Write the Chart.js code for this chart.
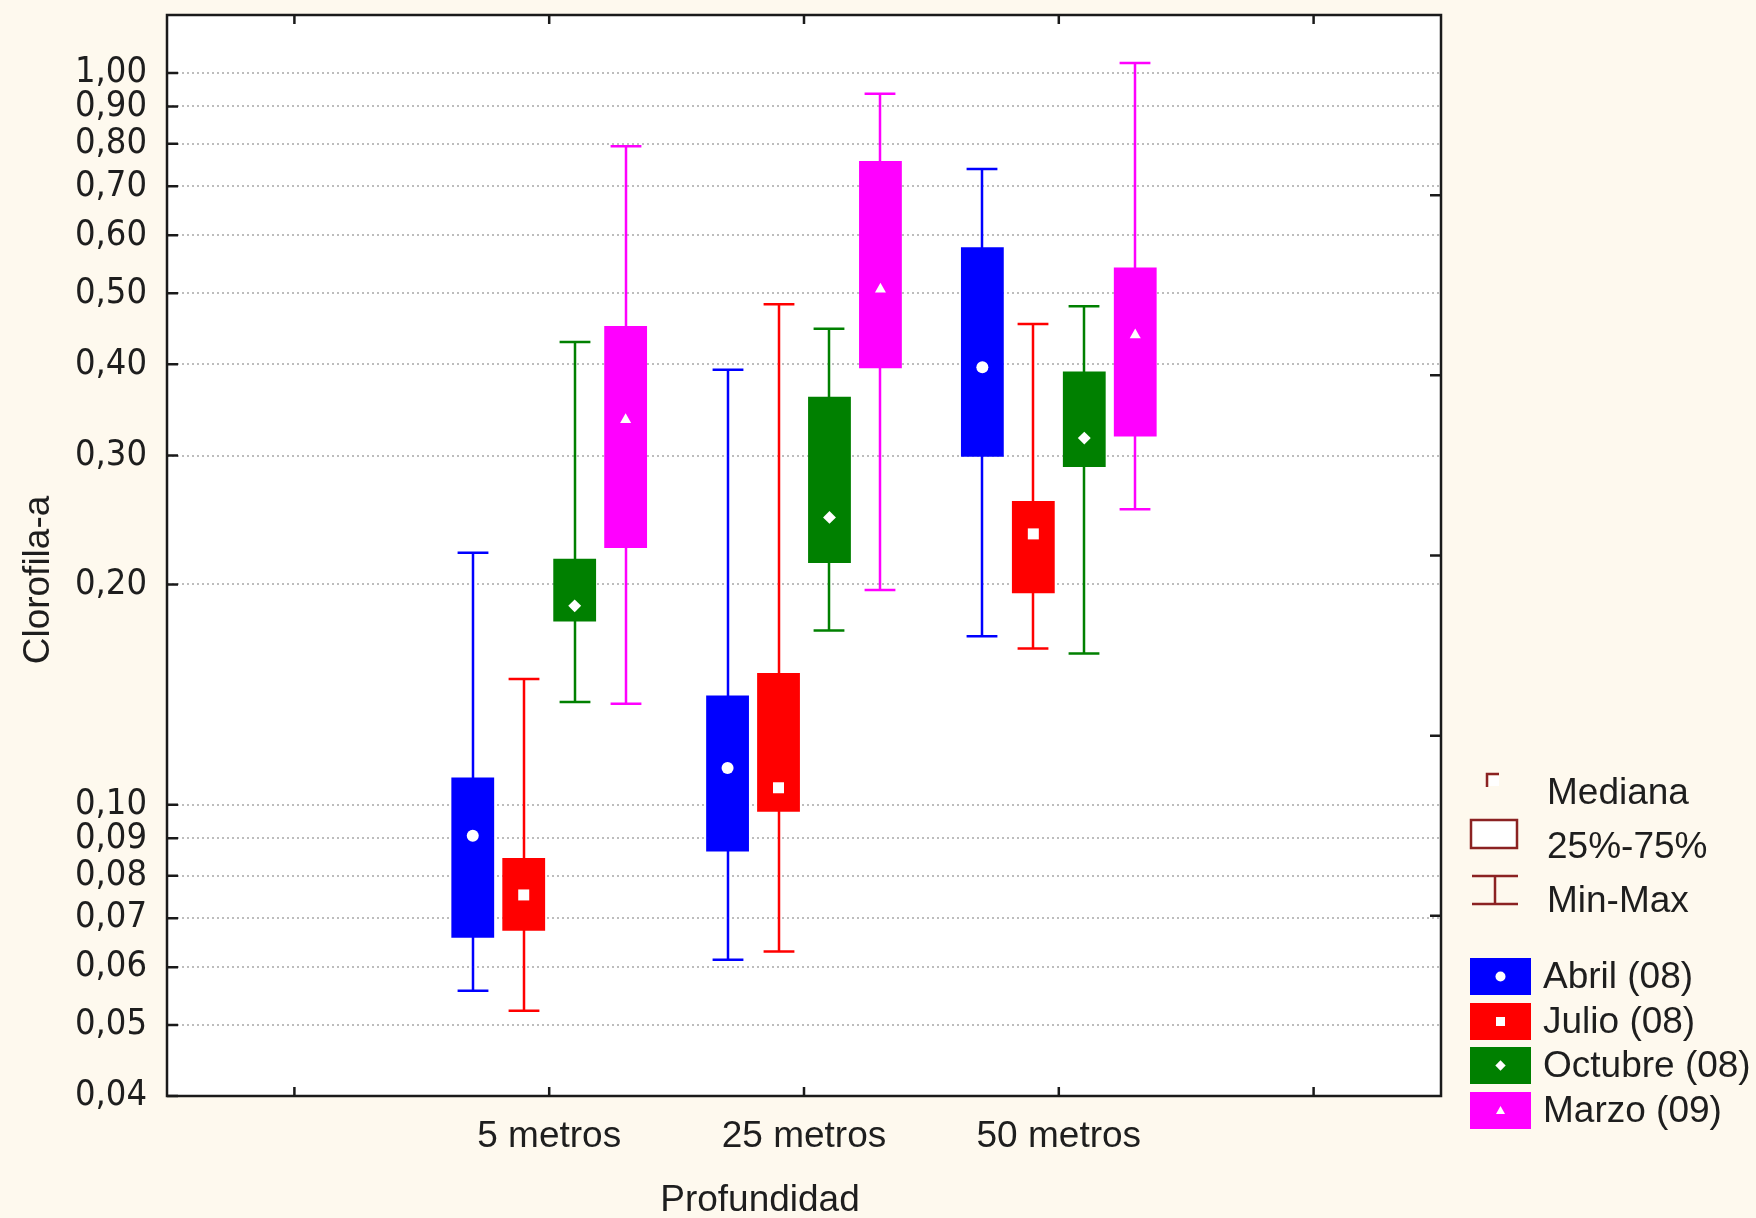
<!DOCTYPE html>
<html><head><meta charset="utf-8">
<script src="https://cdn.jsdelivr.net/npm/chart.js@4.4.1/dist/chart.umd.min.js"></script>
<style>html,body{margin:0;padding:0;background:#FEF9EE;}canvas{display:block}</style>
</head><body>
<canvas id="c" width="1756" height="1218"></canvas>
<script>
// ---------- data ----------
const categories = ['', '5 metros', '25 metros', '50 metros', ''];
const seriesNames = ['Abril (08)', 'Julio (08)', 'Octubre (08)', 'Marzo (09)'];
const seriesColors = ['#0000FF', '#FF0000', '#008000', '#FF00FF'];
const medianMarkers = ['circle', 'square', 'diamond', 'triangle'];

const abrilMin    = [null, 0.0557, 0.0614, 0.170, null];
const abrilQ1     = [null, 0.0658, 0.0863, 0.299, null];
const abrilMedian = [null, 0.0907, 0.1123, 0.396, null];
const abrilQ3     = [null, 0.109, 0.141, 0.578, null];
const abrilMax    = [null, 0.221, 0.393, 0.739, null];

const julioMin    = [null, 0.0523, 0.0630, 0.1635, null];
const julioQ1     = [null, 0.0673, 0.0978, 0.1945, null];
const julioMedian = [null, 0.0753, 0.1055, 0.2345, null];
const julioQ3     = [null, 0.0846, 0.1514, 0.260, null];
const julioMax    = [null, 0.1486, 0.483, 0.454, null];

const octubreMin    = [null, 0.1382, 0.173, 0.161, null];
const octubreQ1     = [null, 0.178, 0.214, 0.2895, null];
const octubreMedian = [null, 0.187, 0.247, 0.317, null];
const octubreQ3     = [null, 0.2168, 0.361, 0.391, null];
const octubreMax    = [null, 0.429, 0.447, 0.480, null];

const marzoMin    = [null, 0.1374, 0.1966, 0.2534, null];
const marzoQ1     = [null, 0.2244, 0.395, 0.3187, null];
const marzoMedian = [null, 0.337, 0.508, 0.440, null];
const marzoQ3     = [null, 0.451, 0.758, 0.542, null];
const marzoMax    = [null, 0.794, 0.937, 1.032, null];

const yTickValues = [0.04, 0.05, 0.06, 0.07, 0.08, 0.09, 0.10, 0.20, 0.30, 0.40, 0.50, 0.60, 0.70, 0.80, 0.90, 1.00];
const yMin = 0.04, yMax = 1.2;
const rightTickDivisions = 6;
const yTitle = 'Clorofila-a';
const xTitle = 'Profundidad';
const statLegend = ['Mediana', '25%-75%', 'Min-Max'];

// ---------- assembly ----------
const mins = [abrilMin, julioMin, octubreMin, marzoMin];
const q1s = [abrilQ1, julioQ1, octubreQ1, marzoQ1];
const medians = [abrilMedian, julioMedian, octubreMedian, marzoMedian];
const q3s = [abrilQ3, julioQ3, octubreQ3, marzoQ3];
const maxs = [abrilMax, julioMax, octubreMax, marzoMax];

const FONT = "'Liberation Sans', Arial, sans-serif";
const NARROW = "'Liberation Sans Narrow', 'DejaVu Sans Condensed', 'Liberation Sans', sans-serif";
const TEXT = '#1e1e1e';
const DARKRED = '#8b2222';
const CREAM = '#FEF9EE';

const datasets = seriesNames.map((name, d) => ({
  label: name,
  data: categories.map((c, i) => q1s[d][i] == null ? null : [q1s[d][i], q3s[d][i]]),
  backgroundColor: seriesColors[d],
  borderWidth: 0
}));

function drawMarker(ctx, kind, x, y, s) {
  ctx.beginPath();
  if (kind === 'circle') { ctx.arc(x, y, s, 0, Math.PI * 2); }
  else if (kind === 'square') { ctx.rect(x - s, y - s, 2 * s, 2 * s); }
  else if (kind === 'diamond') { ctx.moveTo(x, y - s * 1.15); ctx.lineTo(x + s * 1.15, y); ctx.lineTo(x, y + s * 1.15); ctx.lineTo(x - s * 1.15, y); ctx.closePath(); }
  else { ctx.moveTo(x, y - s); ctx.lineTo(x + s, y + s * 0.8); ctx.lineTo(x - s, y + s * 0.8); ctx.closePath(); }
  ctx.fill();
}

const boxPlugin = {
  id: 'boxplot',
  beforeDraw(chart) {
    const {ctx, chartArea: a} = chart;
    ctx.save();
    ctx.fillStyle = CREAM;
    ctx.fillRect(0, 0, chart.width, chart.height);
    ctx.fillStyle = '#FFFFFF';
    ctx.fillRect(a.left, a.top, a.right - a.left, a.bottom - a.top);
    ctx.restore();
  },
  beforeDatasetsDraw(chart) {
    const {ctx} = chart;
    const y = chart.scales.y;
    ctx.save();
    ctx.lineWidth = 2.5;
    datasets.forEach((ds, d) => {
      const meta = chart.getDatasetMeta(d);
      ctx.strokeStyle = seriesColors[d];
      meta.data.forEach((el, j) => {
        if (mins[d][j] == null) return;
        const x = Math.round(el.x);
        const yT = y.getPixelForValue(maxs[d][j]);
        const yB = y.getPixelForValue(mins[d][j]);
        const half = el.width * 0.36;
        ctx.beginPath();
        ctx.moveTo(x, yT); ctx.lineTo(x, yB);
        ctx.moveTo(x - half, yT); ctx.lineTo(x + half, yT);
        ctx.moveTo(x - half, yB); ctx.lineTo(x + half, yB);
        ctx.stroke();
      });
    });
    ctx.restore();
  },
  afterDatasetsDraw(chart) {
    const {ctx} = chart;
    const y = chart.scales.y;
    ctx.save();
    ctx.fillStyle = '#FFFFFF';
    datasets.forEach((ds, d) => {
      const meta = chart.getDatasetMeta(d);
      meta.data.forEach((el, j) => {
        if (medians[d][j] == null) return;
        const s = medianMarkers[d] === 'circle' ? 6 : medianMarkers[d] === 'square' ? 5.5 : medianMarkers[d] === 'diamond' ? 5.6 : 5.5;
        drawMarker(ctx, medianMarkers[d], el.x, y.getPixelForValue(medians[d][j]), s);
      });
    });
    ctx.restore();
  },
  afterDraw(chart) {
    const {ctx, chartArea: a} = chart;
    const y = chart.scales.y, x = chart.scales.x;
    ctx.save();
    // frame
    ctx.strokeStyle = '#1a1a1a';
    ctx.lineWidth = 2.5;
    ctx.strokeRect(a.left, a.top, a.right - a.left, a.bottom - a.top);
    // inward ticks
    ctx.beginPath();
    yTickValues.forEach(v => { const p = y.getPixelForValue(v); ctx.moveTo(a.left, p); ctx.lineTo(a.left + 11, p); });
    for (let k = 1; k < rightTickDivisions; k++) {
      const v = yMin * Math.pow(yMax / yMin, k / rightTickDivisions);
      const p = y.getPixelForValue(v);
      ctx.moveTo(a.right, p); ctx.lineTo(a.right - 11, p);
    }
    categories.forEach((c, i) => {
      const p = x.getPixelForValue(i);
      ctx.moveTo(p, a.top); ctx.lineTo(p, a.top + 9);
      ctx.moveTo(p, a.bottom); ctx.lineTo(p, a.bottom - 9);
    });
    ctx.stroke();

    // axis titles
    ctx.fillStyle = TEXT;
    ctx.font = '37px ' + FONT;
    ctx.textAlign = 'center';
    ctx.textBaseline = 'middle';
    ctx.fillText(xTitle, 760, 1201);
    ctx.save();
    ctx.translate(39, 580);
    ctx.rotate(-Math.PI / 2);
    ctx.fillText(yTitle, 0, 0);
    ctx.restore();

    // legend: statistics
    ctx.strokeStyle = DARKRED;
    ctx.lineWidth = 2.5;
    ctx.fillStyle = '#FFFFFF';
    ctx.fillRect(1489, 776, 10, 10);
    ctx.beginPath();
    ctx.moveTo(1487, 787); ctx.lineTo(1487, 774); ctx.lineTo(1499, 774);
    ctx.stroke();
    ctx.fillRect(1471, 820, 46, 28);
    ctx.strokeRect(1471, 820, 46, 28);
    ctx.beginPath();
    ctx.moveTo(1472, 876); ctx.lineTo(1518, 876);
    ctx.moveTo(1472, 904); ctx.lineTo(1518, 904);
    ctx.moveTo(1495, 876); ctx.lineTo(1495, 904);
    ctx.stroke();
    ctx.fillStyle = TEXT;
    ctx.textAlign = 'left';
    const statY = [794, 848, 902];
    statLegend.forEach((t, i) => ctx.fillText(t, 1547, statY[i]));

    // legend: series
    const rowY = [958, 1003, 1047, 1092];
    seriesNames.forEach((name, d) => {
      ctx.fillStyle = seriesColors[d];
      ctx.fillRect(1470, rowY[d], 61, 37);
      ctx.fillStyle = '#FFFFFF';
      drawMarker(ctx, medianMarkers[d], 1500.5, rowY[d] + 18.5, medianMarkers[d] === 'circle' ? 5 : 4.5);
      ctx.fillStyle = TEXT;
      ctx.fillText(name, 1543, rowY[d] + 20);
    });
    ctx.restore();
  }
};

new Chart(document.getElementById('c'), {
  type: 'bar',
  data: { labels: categories, datasets },
  plugins: [boxPlugin],
  options: {
    responsive: false,
    animation: false,
    layout: { padding: { top: 15, right: 315, left: 0, bottom: 0 } },
    plugins: { legend: { display: false }, tooltip: { enabled: false } },
    datasets: { bar: { categoryPercentage: 0.8, barPercentage: 0.84 } },
    scales: {
      x: {
        type: 'category', offset: true,
        grid: { display: false }, border: { display: false },
        ticks: { font: { family: FONT, size: 37 }, color: TEXT, padding: 11, maxRotation: 0, autoSkip: false },
        afterFit: s => { s.height = 122; s.paddingLeft = 0; s.paddingRight = 0; }
      },
      y: {
        type: 'logarithmic', min: yMin, max: yMax,
        afterBuildTicks: s => { s.ticks = yTickValues.map(v => ({ value: v })); },
        ticks: {
          font: { family: NARROW, size: 36 }, color: TEXT, padding: 20, autoSkip: false,
          callback: v => Number(v).toFixed(2).replace('.', ',')
        },
        grid: {
          drawTicks: false, lineWidth: 2,
          color: c => (c.tick && Math.abs(c.tick.value - yMin) < 1e-9) ? 'rgba(0,0,0,0)' : '#bdbdbd'
        },
        border: { display: false, dash: [2, 3] },
        afterFit: s => { s.width = 167; s.paddingTop = 0; s.paddingBottom = 0; }
      }
    }
  }
});
</script>
</body></html>
